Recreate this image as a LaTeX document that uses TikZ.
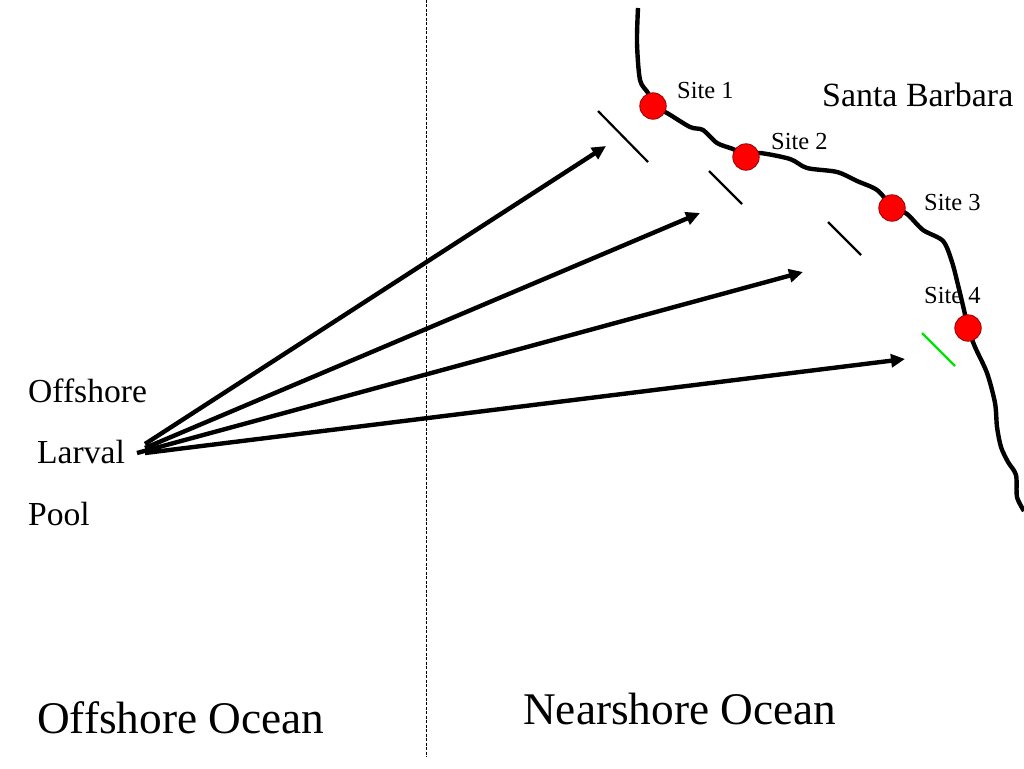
\documentclass[tikz,border=0pt]{standalone}
\usepackage{fontspec}
\setmainfont{Liberation Serif}
\usetikzlibrary{arrows.meta, positioning, calc}

\begin{document}
\begin{tikzpicture}[x=1pt, y=-1pt,
    site/.style={circle, draw=red!50!black, fill=red, line width=0.7pt, minimum size=26.5pt, inner sep=0pt},
    arrow/.style={-{Triangle[length=14pt, width=13pt]}, line width=4.4pt},
    barrier/.style={line width=2.2pt, black},
    coast/.style={line width=4.4pt, line join=round},
    sitelabel/.style={anchor=base west, inner sep=0pt, font=\fontsize{24.5}{28}\selectfont},
    poollabel/.style={anchor=base west, inner sep=0pt, font=\fontsize{33.6}{38}\selectfont},
    oceanlabel/.style={anchor=base west, inner sep=0pt, font=\fontsize{45.3}{52}\selectfont}
  ]
  \useasboundingbox (0,0) rectangle (1024,768);

  % --- OCEAN DIVIDE ---
  \coordinate (divtop) at (426.6,0);
  \coordinate (divbot) at (426.6,757);
  \draw[line width=0.9pt, dash pattern=on 3pt off 1.5pt] (divtop) -- (divbot);

  % --- LABELS ---
  \node[sitelabel] (L1) at (677,98) {Site 1};
  \node[sitelabel] (L2) at (771,149) {Site 2};
  \node[sitelabel] (L3) at (924,210) {Site 3};
  \node[sitelabel] (L4) at (924,303) {Site 4};
  \node[anchor=base west, inner sep=0pt, font=\fontsize{33.9}{38}\selectfont] (city) at (822,106) {Santa Barbara};
  \node[poollabel] (pool1) at (28,402) {Offshore};
  \node[poollabel] (pool2) at (37,463.5) {Larval};
  \node[poollabel] (pool3) at (28,525) {Pool};
  \node[oceanlabel] (offshore) at (37,733) {Offshore Ocean};
  \node[oceanlabel] (nearshore) at (523,724) {Nearshore Ocean};

  % Coast line, north to south
  \draw[coast] plot[smooth, tension=0.5] coordinates {(638,8) (637,43) (640,80) (648,93) (653,106)
    (667,113) (690,127) (703,130) (717,143) (733,149) (746,155)
    (760,153) (790,159) (807,168) (837,172) (857,181) (877,190) (892,206)
    (907,214) (923,230) (943,241) (952,262) (958,285) (964,310) (968,328)
    (975,347) (987,373) (995,403) (997,427) (1001,447) (1008,462) (1016,475) (1017,497) (1024,511)};

  % Sites
  \node[site] (S1) at (653,106) {};
  \node[site] (S2) at (746,157) {};
  \node[site] (S3) at (892,208) {};
  \node[site] (S4) at (968,328) {};

  % Barriers in front of the sites
  \coordinate (B1a) at (598,111);  \coordinate (B1b) at (648,162);
  \coordinate (B2a) at (709,171);  \coordinate (B2b) at (742,204);
  \coordinate (B3a) at (828,222);  \coordinate (B3b) at (861,255);
  \coordinate (B4a) at (922,333);  \coordinate (B4b) at (955,366);
  \foreach \i in {1,2,3} {
    \draw[barrier] (B\i a) -- (B\i b);
  }
  \draw[barrier, green!90!black] (B4a) -- (B4b);

  % Larval transport
  \coordinate (P1) at (145,444);
  \coordinate (P2) at (145,448);
  \coordinate (P3) at (137,453);
  \coordinate (P4) at (145,453);
  \coordinate (T1) at (606,146);
  \coordinate (T2) at (700,213);
  \coordinate (T3) at (803,272);
  \coordinate (T4) at (905,359);
  \foreach \i in {1,2,3,4} {
    \draw[arrow] (P\i) -- (T\i);
  }
\end{tikzpicture}
\end{document}
